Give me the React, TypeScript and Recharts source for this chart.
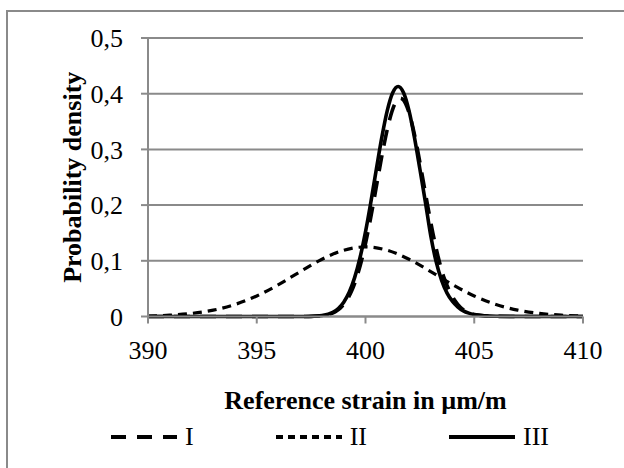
import React from 'react';
import { LineChart, Line, XAxis, YAxis, CartesianGrid, Legend } from 'recharts';

const FONT = "'Liberation Serif', 'DejaVu Serif', 'Times New Roman', serif";

const seriesNames = ['I', 'II', 'III'];
const xTicks = [390, 395, 400, 405, 410];
const yTicks = [0, 0.1, 0.2, 0.3, 0.4, 0.5];

const xI = [390, 392, 394, 396, 397, 397.6, 398.1, 398.6, 398.85, 399.1, 399.35, 399.6, 399.85, 400.1, 400.35, 400.6, 400.85, 401.1, 401.35, 401.6, 401.85, 402.1, 402.35, 402.6, 402.85, 403.1, 403.35, 403.6, 403.85, 404.1, 404.35, 404.6, 404.85, 405.1, 405.6, 406, 408, 410];
const yI = [0, 0, 0, 0, 0, 0.0004, 0.0021, 0.0083, 0.0153, 0.0269, 0.0448, 0.0706, 0.1055, 0.1495, 0.2007, 0.2554, 0.308, 0.3522, 0.3817, 0.392, 0.3817, 0.3522, 0.308, 0.2554, 0.2007, 0.1495, 0.1055, 0.0706, 0.047, 0.029, 0.017, 0.0095, 0.005, 0.0025, 0.0006, 0.0002, 0, 0];

const xII = [390, 391, 392, 393, 394, 395, 396, 397, 398, 399, 400, 401, 402, 403, 404, 405, 406, 407, 408, 409, 410];
const yII = [0.0009, 0.0024, 0.0055, 0.0114, 0.0216, 0.0369, 0.0572, 0.0806, 0.1028, 0.119, 0.125, 0.119, 0.1028, 0.0806, 0.0572, 0.0369, 0.0216, 0.0114, 0.0055, 0.0024, 0.0009];

const xIII = [390, 392, 394, 396, 397, 397.5, 398, 398.5, 398.75, 399, 399.25, 399.5, 399.75, 400, 400.25, 400.5, 400.75, 401, 401.25, 401.5, 401.75, 402, 402.25, 402.5, 402.75, 403, 403.25, 403.5, 403.75, 404, 404.25, 404.5, 404.75, 405, 405.5, 406, 408, 410];
const yIII = [0, 0, 0, 0, 0, 0.0003, 0.0018, 0.0076, 0.0143, 0.0257, 0.0435, 0.0698, 0.1059, 0.1519, 0.2063, 0.2648, 0.3216, 0.3696, 0.4017, 0.413, 0.4017, 0.3696, 0.3216, 0.2648, 0.2063, 0.145, 0.098, 0.065, 0.042, 0.027, 0.017, 0.01, 0.006, 0.0035, 0.0012, 0.0004, 0, 0];

const toData = (xs: number[], ys: number[]) => xs.map((x, i) => ({ x, y: ys[i] }));
const dataI = toData(xI, yI);
const dataII = toData(xII, yII);
const dataIII = toData(xIII, yIII);

const plotDashes = ['16 10', '9 6', undefined as string | undefined];
const legendDashes = ['15 11', '7 5', undefined as string | undefined];
const widths = [3.6, 3.2, 3.6];

const GRAY = '#8a8a8a';

const LegendContent = () => (
  <div style={{ display: 'flex', alignItems: 'center', paddingLeft: 111, fontFamily: FONT, fontSize: 26, color: '#000', height: 30 }}>
    {seriesNames.map((n, i) => (
      <div key={n} style={{ display: 'flex', alignItems: 'center', marginRight: i < 2 ? 82 : 0 }}>
        <svg width={66} height={10} style={{ display: 'block' }}>
          <line x1={0} y1={5} x2={66} y2={5} stroke="#000" strokeWidth={4} strokeDasharray={legendDashes[i]} />
        </svg>
        <span style={{ marginLeft: 8, lineHeight: '30px' }}>{n}</span>
      </div>
    ))}
  </div>
);

export default function App() {
  return (
    <div style={{ position: 'absolute', left: 0, top: 0, width: 624, height: 468, overflow: 'hidden', background: '#fff', fontFamily: FONT }}>
      <div style={{ position: 'absolute', left: 6, top: 10, width: 800, height: 800, borderLeft: `2px solid ${GRAY}`, borderTop: `2px solid ${GRAY}` }} />
      <div style={{ position: 'absolute', left: 0, top: 0 }}>
        <LineChart width={624} height={468} margin={{ top: 38, right: 41, left: 0, bottom: 51.5 }} style={{ fontFamily: FONT }}>
          <CartesianGrid vertical={false} stroke={GRAY} strokeWidth={2} />
          <XAxis
            dataKey="x"
            type="number"
            domain={[390, 410]}
            ticks={xTicks}
            allowDuplicatedCategory={false}
            height={100}
            axisLine={{ stroke: GRAY, strokeWidth: 2 }}
            tickLine={{ stroke: GRAY, strokeWidth: 2 }}
            tickSize={7}
            tickMargin={17}
            tick={{ fill: '#000', fontSize: 26, fontFamily: FONT }}
            label={{ value: 'Reference strain in µm/m', position: 'insideBottom', offset: 8, fill: '#000', fontSize: 26, fontWeight: 'bold', fontFamily: FONT }}
          />
          <YAxis
            type="number"
            domain={[0, 0.5]}
            ticks={yTicks}
            width={148}
            axisLine={{ stroke: GRAY, strokeWidth: 2 }}
            tickLine={{ stroke: GRAY, strokeWidth: 2 }}
            tickSize={7}
            tickMargin={18}
            tickFormatter={(v: number) => String(v).replace('.', ',')}
            tick={{ fill: '#000', fontSize: 26, fontFamily: FONT }}
            label={{ value: 'Probability density', angle: -90, position: 'center', dx: -2, fill: '#000', fontSize: 26, fontWeight: 'bold', fontFamily: FONT }}
          />
          <Legend verticalAlign="middle" align="center" layout="horizontal" wrapperStyle={{ top: 422, left: 0, width: 624 }} content={<LegendContent />} />
          <Line data={dataII} dataKey="y" name={seriesNames[1]} type="monotone" stroke="#000" strokeWidth={widths[1]} strokeDasharray={plotDashes[1]} dot={false} isAnimationActive={false} />
          <Line data={dataI} dataKey="y" name={seriesNames[0]} type="monotone" stroke="#000" strokeWidth={widths[0]} strokeDasharray={plotDashes[0]} dot={false} isAnimationActive={false} />
          <Line data={dataIII} dataKey="y" name={seriesNames[2]} type="monotone" stroke="#000" strokeWidth={widths[2]} dot={false} isAnimationActive={false} />
        </LineChart>
      </div>
    </div>
  );
}
